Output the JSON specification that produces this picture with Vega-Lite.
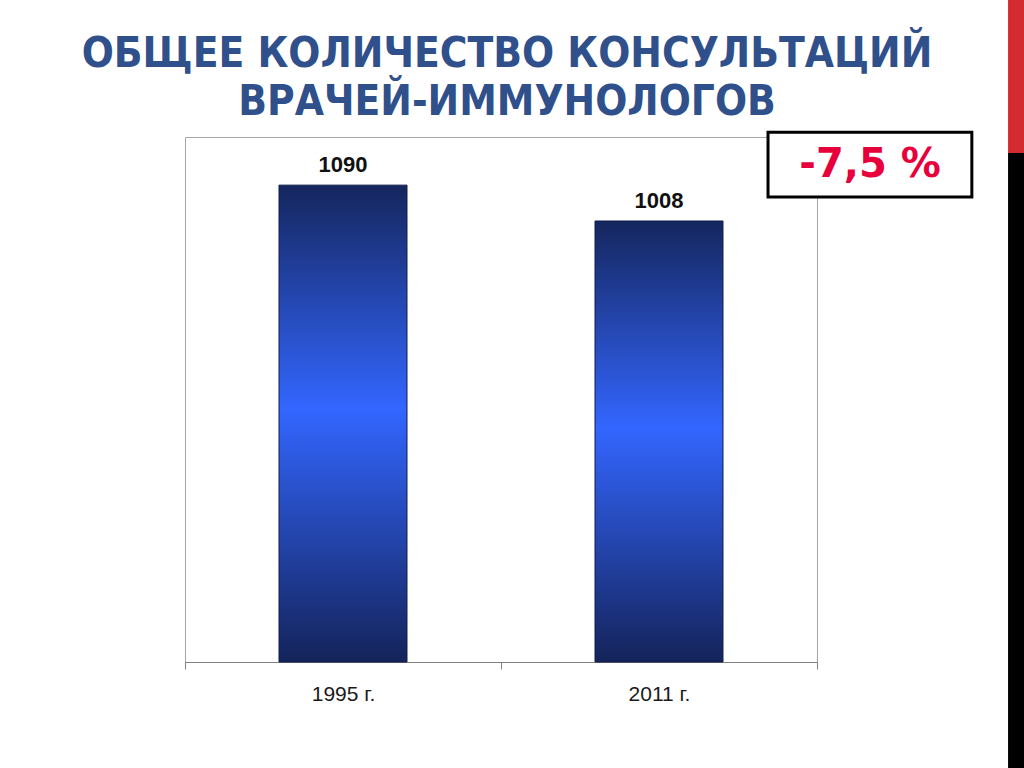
{
  "$schema": "https://vega.github.io/schema/vega-lite/v6.json",
  "width": 632,
  "height": 525,
  "autosize": {"type": "none"},
  "padding": {"left": 185, "top": 137, "right": 207, "bottom": 106},
  "background": "white",
  "config": {"view": {"stroke": "#a6a6a6", "strokeWidth": 1}},
  "data": {"values": [
    {"year": "1995 г.", "count": 1090},
    {"year": "2011 г.", "count": 1008}
  ]},
  "resolve": {"scale": {"x": "independent"}, "axis": {"x": "independent"}},
  "layer": [
    {
      "encoding": {
        "x": {"field": "year", "type": "nominal", "sort": null,
          "scale": {"paddingInner": 0, "paddingOuter": 0},
          "axis": {"title": null, "labelAngle": 0, "tickBand": "extent", "domainColor": "#808080",
            "tickColor": "#808080", "tickSize": 7, "labelFont": "Liberation Sans", "labelFontSize": 21,
            "labelColor": "#1a1a1a", "labelPadding": 14, "grid": false}},
        "y": {"field": "count", "type": "quantitative", "scale": {"domain": [0, 1200]}, "axis": null}
      },
      "layer": [
        {"mark": {"type": "bar", "width": {"band": 0.405}, "stroke": "#0f1c4a", "strokeWidth": 1,
          "color": {"gradient": "linear", "x1": 0, "y1": 0, "x2": 0, "y2": 1,
            "stops": [{"offset": 0, "color": "#15265e"}, {"offset": 0.47, "color": "#3366ff"}, {"offset": 1, "color": "#14235a"}]}}},
        {"mark": {"type": "text", "dy": -20, "font": "Liberation Sans", "fontWeight": "bold", "fontSize": 22, "color": "#111111"},
          "encoding": {"text": {"field": "count", "type": "quantitative"}}}
      ]
    },
    {
      "data": {"values": [{"label": "ОБЩЕЕ КОЛИЧЕСТВО КОНСУЛЬТАЦИЙ", "line": 1}]},
      "mark": {"type": "text", "font": "DejaVu Sans Condensed, Liberation Sans, sans-serif", "fontWeight": "bold", "fontSize": 42, "color": "#30508c", "baseline": "middle", "align": "center"},
      "encoding": {
        "x": {"datum": 0.5095, "type": "quantitative", "scale": {"domain": [0, 1]}, "axis": null},
        "y": {"datum": 1389, "type": "quantitative", "scale": {"domain": [0, 1200]}},
        "text": {"field": "label"}
      }
    },
    {
      "data": {"values": [{"label": "ВРАЧЕЙ-ИММУНОЛОГОВ", "line": 2}]},
      "mark": {"type": "text", "font": "DejaVu Sans Condensed, Liberation Sans, sans-serif", "fontWeight": "bold", "fontSize": 42, "color": "#30508c", "baseline": "middle", "align": "center"},
      "encoding": {
        "x": {"datum": 0.5095, "type": "quantitative", "scale": {"domain": [0, 1]}, "axis": null},
        "y": {"datum": 1279, "type": "quantitative", "scale": {"domain": [0, 1200]}},
        "text": {"field": "label"}
      }
    },
    {
      "data": {"values": [{"note": "box"}]},
      "mark": {"type": "rect", "fill": "white", "stroke": "#000000", "strokeWidth": 3},
      "encoding": {
        "x": {"datum": 0.9225, "type": "quantitative", "scale": {"domain": [0, 1]}, "axis": null},
        "x2": {"datum": 1.245},
        "y": {"datum": 1211, "type": "quantitative", "scale": {"domain": [0, 1200]}},
        "y2": {"datum": 1063}
      }
    },
    {
      "data": {"values": [{"note": "-7,5 %"}]},
      "mark": {"type": "text", "font": "DejaVu Sans", "fontWeight": "bold", "fontSize": 40, "color": "#e8003c", "baseline": "middle", "align": "center"},
      "encoding": {
        "x": {"datum": 1.084, "type": "quantitative", "scale": {"domain": [0, 1]}, "axis": null},
        "y": {"datum": 1136, "type": "quantitative", "scale": {"domain": [0, 1200]}},
        "text": {"field": "note"}
      }
    },
    {
      "data": {"values": [{"part": "red", "top": 1513.2, "bottom": 1163.4}, {"part": "black", "top": 1163.4, "bottom": -242.3}]},
      "mark": {"type": "rect"},
      "encoding": {
        "x": {"datum": 1.3023, "type": "quantitative", "scale": {"domain": [0, 1]}, "axis": null},
        "x2": {"datum": 1.33},
        "y": {"field": "top", "type": "quantitative", "scale": {"domain": [0, 1200]}},
        "y2": {"field": "bottom"},
        "color": {"field": "part", "type": "nominal", "scale": {"domain": ["red", "black"], "range": ["#d42b30", "#000000"]}, "legend": null}
      }
    }
  ]
}
